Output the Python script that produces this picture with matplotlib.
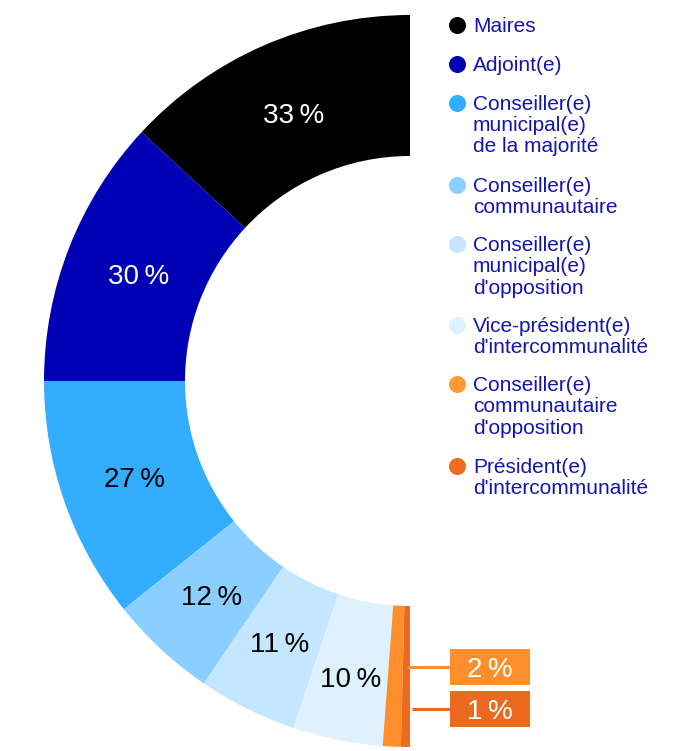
import matplotlib.pyplot as plt
import numpy as np

plt.rcParams['font.family'] = ['Liberation Sans', 'DejaVu Sans']

# data
categories = ['Maires', 'Adjoint(e)', 'Conseiller(e)\nmunicipal(e)\nde la majorité',
              'Conseiller(e)\ncommunautaire', 'Conseiller(e)\nmunicipal(e)\nd\'opposition',
              'Vice-président(e)\nd\'intercommunalité', 'Conseiller(e)\ncommunautaire\nd\'opposition',
              'Président(e)\nd\'intercommunalité']
values = [33, 30, 27, 12, 11, 10, 2, 1]
colors = ['#000000', '#0000b4', '#33adff', '#8acfff', '#c4e6ff', '#ddf1ff', '#ff8f2c', '#ec6a1f']
label_colors = ['white', 'white', 'black', 'black', 'black', 'black', 'white', 'white']

W, H = 684, 751
fig = plt.figure(figsize=(W / 100, H / 100), dpi=100)
ax = fig.add_axes([0, 0, 1, 1])

cx, cy = 410, H - 381
R, width = 366, 141
total = sum(values)

# half donut: the invisible remainder fills the right half
wedges, _ = ax.pie(values + [total], colors=colors + ['none'], startangle=90,
                   counterclock=True, radius=R, center=(cx, cy), frame=True,
                   wedgeprops=dict(width=width, linewidth=0))

# percentage labels inside the ring
cum = np.cumsum([0] + values)
for i, v in enumerate(values[:6]):
    mid = (cum[i] + v / 2) / total * np.pi  # angle from the top, going left
    r = 292 if i < 5 else 302
    x = cx - r * np.sin(mid)
    y = cy + r * np.cos(mid)
    ax.text(x, y, '%d\u2009%%' % v, color=label_colors[i], fontsize=20,
            ha='center', va='center_baseline')

# small slices: callout boxes
box_y = [H - 667, H - 709]
line_x0 = [407, 412]
for k, i in enumerate([6, 7]):
    ax.plot([line_x0[k], 450], [box_y[k], box_y[k]], color=colors[i], lw=2.2,
            solid_capstyle='butt')
    ax.add_patch(plt.Rectangle((450, box_y[k] - 18), 80, 36, color=colors[i], lw=0))
    ax.text(490, box_y[k], '%d\u2009%%' % values[i], color='white', fontsize=20,
            ha='center', va='center_baseline')

# legend
legend_y = [25, 64, 103, 185, 244, 325, 384, 466]
legend_colors = ['#000000', '#0000b4', '#33adff', '#8acfff', '#c4e6ff', '#ddf1ff', '#ff9a33', '#f06a20']
for lab, py, c in zip(categories, legend_y, legend_colors):
    ax.scatter([457], [H - py], s=150, color=c, linewidths=0)
    ax.text(473, H - py + 8, lab, color='#1414b0', fontsize=15,
            ha='left', va='top', linespacing=1.15)

ax.set_xlim(0, W)
ax.set_ylim(0, H)
ax.set_aspect('equal')
ax.axis('off')

fig.savefig('out.png', dpi=100)
